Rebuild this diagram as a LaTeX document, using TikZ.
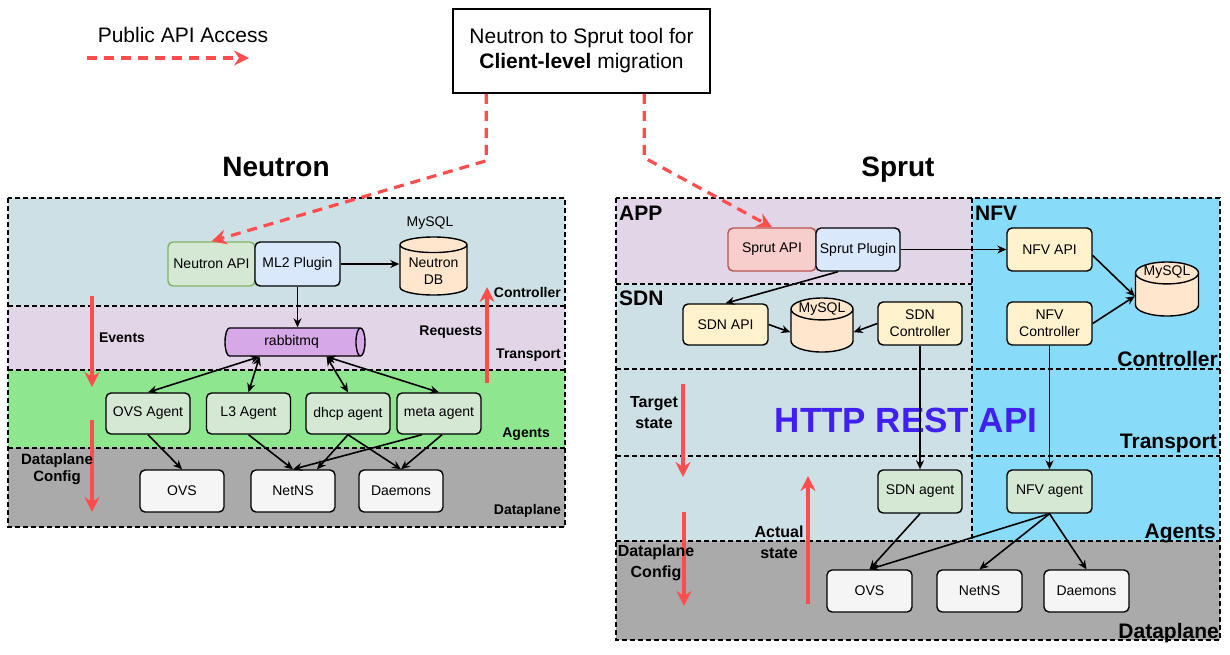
\documentclass[tikz,border=0pt]{standalone}
\usepackage{fontspec}
\setmainfont{Liberation Sans}
\usetikzlibrary{arrows.meta,positioning,shapes.geometric}

\definecolor{ctrlfill}{HTML}{CCE0E6}
\definecolor{transfill}{HTML}{E1D5E7}
\definecolor{agentsfill}{HTML}{8EE68E}
\definecolor{dpfill}{HTML}{AAAAAA}
\definecolor{nfvfill}{HTML}{88DCFA}
\definecolor{flowred}{HTML}{FF4D4D}
\definecolor{restblue}{HTML}{4020F0}
\definecolor{greenbox}{HTML}{D5E8D4}
\definecolor{greenline}{HTML}{82B366}
\definecolor{bluebox}{HTML}{DAE8FC}
\definecolor{yellowbox}{HTML}{FFF2CC}
\definecolor{orangebox}{HTML}{FFE6CC}
\definecolor{redbox}{HTML}{F8CECC}
\definecolor{redline}{HTML}{B85450}
\definecolor{graybox}{HTML}{F5F5F5}
\definecolor{rabbitfill}{HTML}{D7A8E8}

\newcommand{\boxtext}{\fontsize{14}{17}\selectfont}
\newcommand{\layertext}{\bfseries\fontsize{14}{17}\selectfont}
\newcommand{\biglayertext}{\bfseries\fontsize{21}{23}\selectfont}
\newcommand{\statetext}{\bfseries\fontsize{16}{21}\selectfont}

\tikzset{
  box/.style={draw,rounded corners=5pt,line width=1.4pt,align=center,inner sep=2pt,
    minimum width=84pt,minimum height=42pt,font=\boxtext},
  db/.style={cylinder,shape border rotate=90,aspect=0.3,draw,line width=1.4pt,anchor=shape center,
    fill=orangebox,align=center,inner sep=1pt,font=\boxtext},
  pipe/.style={cylinder,aspect=0.6,draw,line width=1.4pt,fill=rabbitfill,anchor=shape center,
    inner sep=1pt,font=\boxtext},
  layerline/.style={line width=1.7pt,dash pattern=on 5pt off 3pt},
  link/.style={line width=1.6pt,-{Stealth[length=9pt,width=8pt]}},
  duplex/.style={line width=1.6pt,{Stealth[length=9pt,width=8pt]}-{Stealth[length=9pt,width=8pt]}},
  flow/.style={draw=flowred,line width=3.2pt,-{Stealth[length=15pt,width=15pt,inset=5pt]}},
  apiarrow/.style={draw=flowred,line width=3.2pt,dash pattern=on 10pt off 7pt,
    -{Stealth[length=15pt,width=15pt,inset=5pt]}},
}

\begin{document}
\begin{tikzpicture}[x=1pt,y=-1pt]
\useasboundingbox (0,0) rectangle (1230,654);

% Legend and migration tool
\node (legend) at (183,35) [font=\fontsize{21}{23}\selectfont] {Public API Access};
\coordinate (legendstart) at (87,58);
\coordinate (legendend) at (249,58);
\draw[apiarrow] (legendstart) -- (legendend);
\node (toolbox) at (581.5,51) [draw,line width=1.5pt,minimum width=257pt,minimum height=84pt,
  align=center,font=\fontsize{21}{25}\selectfont] {Neutron to Sprut tool for\\\textbf{Client-level} migration};

% Titles
\node (neutrontitle) at (276,167) [font=\bfseries\fontsize{28}{30}\selectfont] {Neutron};
\node (spruttitle) at (898,170) [font=\bfseries\fontsize{28}{30}\selectfont] {Sprut};

% Neutron layers
\fill[ctrlfill] (8,198) rectangle (565,306);
\fill[transfill] (8,306) rectangle (565,370);
\fill[agentsfill] (8,370) rectangle (565,448);
\fill[dpfill] (8,448) rectangle (565,527);
\draw[layerline] (8,306) -- (565,306);
\draw[layerline] (8,370) -- (565,370);
\draw[layerline] (8,448) -- (565,448);
\draw[layerline] (8,198) rectangle (565,527);
\node (nctrltag) at (561,297) [anchor=base east,inner sep=0pt,font=\layertext] {Controller};
\node (ntranstag) at (561,358) [anchor=base east,inner sep=0pt,font=\layertext] {Transport};
\node (nagenttag) at (550,437) [anchor=base east,inner sep=0pt,font=\layertext] {Agents};
\node (ndptag) at (561,514) [anchor=base east,inner sep=0pt,font=\layertext] {Dataplane};

% Sprut layers
\fill[transfill] (616,198) rectangle (972,284);
\fill[ctrlfill] (616,284) rectangle (972,541);
\fill[nfvfill] (972,198) rectangle (1220,541);
\fill[dpfill] (616,541) rectangle (1220,640);
\node (resttag) at (906,420) [font=\bfseries\fontsize{35}{38}\selectfont,text=restblue] {HTTP REST API};
\draw[layerline] (616,284) -- (972,284);
\draw[layerline] (616,369) -- (1220,369);
\draw[layerline] (616,456) -- (1220,456);
\draw[layerline] (616,541) -- (1220,541);
\draw[layerline] (972,198) -- (972,541);
\draw[layerline] (616,198) rectangle (1220,640);
\node (apptag) at (619,220) [anchor=base west,inner sep=0pt,font=\biglayertext] {APP};
\node (sdntag) at (619,305) [anchor=base west,inner sep=0pt,font=\biglayertext] {SDN};
\node (nfvtag) at (975,220) [anchor=base west,inner sep=0pt,font=\biglayertext] {NFV};
\node (sctrltag) at (1218,366) [anchor=base east,inner sep=0pt,font=\biglayertext] {Controller};
\node (stranstag) at (1217,448) [anchor=base east,inner sep=0pt,font=\biglayertext] {Transport};
\node (sagenttag) at (1216,538) [anchor=base east,inner sep=0pt,font=\biglayertext] {Agents};
\node (sdptag) at (1219,638) [anchor=base east,inner sep=0pt,font=\biglayertext] {Dataplane};

% Neutron nodes
\node (neutronapi) at (211.5,264) [box,fill=greenbox,draw=greenline,minimum width=87pt,minimum height=44pt] {Neutron API};
\node (ml2) at (297.5,264) [box,fill=bluebox,minimum width=85pt,minimum height=44pt] {ML2 Plugin};
\node (neutrondb) at (433.5,266) [db,minimum width=67pt,minimum height=58pt] {\phantom{Neutron}};
\node (neutrondbtag) at (433.5,271.5) [align=center,font=\boxtext] {Neutron\\DB};
\node (neutronsql) at (430,223) [font=\boxtext] {MySQL};
\node (rabbit) at (295,342) [pipe,minimum width=28pt,minimum height=140pt] {rabbitmq};
\node (ovsagent) at (148,413.5) [box,fill=greenbox,minimum height=41pt] {OVS Agent};
\node (l3agent) at (248.5,413.5) [box,fill=greenbox,minimum height=41pt] {L3 Agent};
\node (dhcpagent) at (348,413.5) [box,fill=greenbox,minimum height=41pt] {dhcp agent};
\node (metaagent) at (439,413.5) [box,fill=greenbox,minimum height=41pt] {meta agent};
\node (ovs) at (182,491) [box,fill=graybox] {OVS};
\node (netns) at (293,491) [box,fill=graybox] {NetNS};
\node (daemons) at (401,491) [box,fill=graybox] {Daemons};

% Neutron connectors
\draw[link] (ml2.east) -- (ml2.east -| neutrondb.west);
\draw[link] (ml2.south) -- (ml2.south |- rabbit.north);
\path (rabbit.south) +(-32,0) coordinate (rabbitleft) +(35,0) coordinate (rabbitright);
\draw[duplex] (rabbitleft) -- (ovsagent.north);
\draw[duplex] (rabbitleft) -- (l3agent.north);
\draw[duplex] (rabbitright) -- (dhcpagent.north);
\draw[duplex] (rabbitright) -- (metaagent.north);
\draw[link] (ovsagent.south) -- (ovs.north);
\draw[link] (l3agent.south) -- (netns.north);
\path (netns.north) +(24,0) coordinate (netnsright);
\draw[link] (dhcpagent.south) -- (netnsright);
\draw[link] (dhcpagent.south) -- (daemons.north);
\path (metaagent.south) +(-17,0) coordinate (metaleft) +(3,0) coordinate (metaright);
\draw[link] (metaleft) -- (netns.north);
\draw[link] (metaright) -- (daemons.north);

% Neutron flows
\coordinate (eventstop) at (92,296);
\coordinate (eventsend) at (92,387);
\draw[flow] (eventstop) -- (eventsend);
\node (eventstag) at (122,338) [font=\layertext] {Events};
\coordinate (ndptop) at (92,420);
\coordinate (ndpend) at (92,512);
\draw[flow] (ndptop) -- (ndpend);
\node (ndpcfg) at (57,469) [align=center,font=\bfseries\fontsize{15}{17}\selectfont] {Dataplane\\Config};
\coordinate (reqtop) at (487,383);
\coordinate (reqend) at (487,287);
\draw[flow] (reqtop) -- (reqend);
\node (reqtag) at (451,332) [font=\layertext] {Requests};

% Sprut nodes
\node (sprutapi) at (772,249.5) [box,fill=redbox,draw=redline,minimum width=88pt,minimum height=43pt] {Sprut API};
\node (sprutplugin) at (858,249.5) [box,fill=bluebox,minimum height=43pt] {Sprut Plugin};
\node (nfvapi) at (1049.5,249.5) [box,fill=yellowbox,minimum width=85pt,minimum height=43pt] {NFV API};
\node (nfvsql) at (1167,289) [db,aspect=0.45,minimum width=63pt,minimum height=54pt] {\phantom{MySQL}};
\node (nfvsqltag) at (1167,272) [font=\boxtext] {MySQL};
\node (nfvctrl) at (1049.5,323.5) [box,fill=yellowbox,minimum width=85pt,minimum height=43pt] {NFV\\Controller};
\node (sdnapi) at (725.5,324.5) [box,fill=yellowbox,minimum width=85pt,minimum height=41pt] {SDN API};
\node (sdnsql) at (822,325) [db,aspect=0.45,minimum width=62pt,minimum height=54pt] {\phantom{MySQL}};
\node (sdnsqltag) at (822,309) [font=\boxtext] {MySQL};
\node (sdnctrl) at (920,323.5) [box,fill=yellowbox,minimum height=43pt] {SDN\\Controller};
\node (sdnagent) at (920,491.5) [box,fill=greenbox,minimum height=43pt] {SDN agent};
\node (nfvagent) at (1049.5,491.5) [box,fill=greenbox,minimum width=85pt,minimum height=43pt] {NFV agent};
\node (ovsright) at (869.5,591) [box,fill=graybox,minimum width=85pt] {OVS};
\node (netnsright) at (979.5,591) [box,fill=graybox,minimum width=85pt] {NetNS};
\node (daemonsright) at (1086.5,591) [box,fill=graybox,minimum width=85pt] {Daemons};

% Sprut connectors
\draw[link] (sprutplugin.east) -- (nfvapi.west);
\path (sprutplugin.south) +(-20,0) coordinate (pluginfoot);
\draw[link] (pluginfoot) -- (sdnapi.north);
\draw[link] (sdnapi.east) -- (sdnsql.west);
\draw[link] (sdnctrl.west) -- (sdnsql.east);
\path (nfvapi.east) +(0,6) coordinate (nfvapiside);
\draw[link] (nfvapiside) -- (nfvsql.west);
\draw[link] (nfvctrl.east) -- (nfvsql.west);
\draw[link] (sdnctrl.south) -- (sdnagent.north);
\draw[link] (nfvctrl.south) -- (nfvagent.north);
\draw[link] (sdnagent.south) -- (ovsright.north);
\draw[link] (nfvagent.south) -- (ovsright.north);
\draw[link] (nfvagent.south) -- (netnsright.north);
\draw[link] (nfvagent.south) -- (daemonsright.north);

% Sprut flows
\coordinate (targettop) at (683,384);
\coordinate (targetend) at (683,477);
\draw[flow] (targettop) -- (targetend);
\node (targettag) at (654,413) [align=center,font=\statetext] {Target\\state};
\coordinate (sdptop) at (684,512);
\coordinate (sdpend) at (684,606);
\draw[flow] (sdptop) -- (sdpend);
\node (sdpcfg) at (656,563) [align=center,font=\statetext] {Dataplane\\Config};
\coordinate (actualtop) at (808,604);
\coordinate (actualend) at (808,476);
\draw[flow] (actualtop) -- (actualend);
\node (actualtag) at (779,542) [align=center,font=\statetext] {Actual\\state};

% Public API access
\path (toolbox.south west) +(34,0) coordinate (toolleft) +(192,0) coordinate (toolright);
\draw[apiarrow] (toolleft) -- ++(0,67) -- (neutronapi.north);
\draw[apiarrow] (toolright) -- ++(0,64) -- (sprutapi.north);

\end{tikzpicture}
\end{document}
